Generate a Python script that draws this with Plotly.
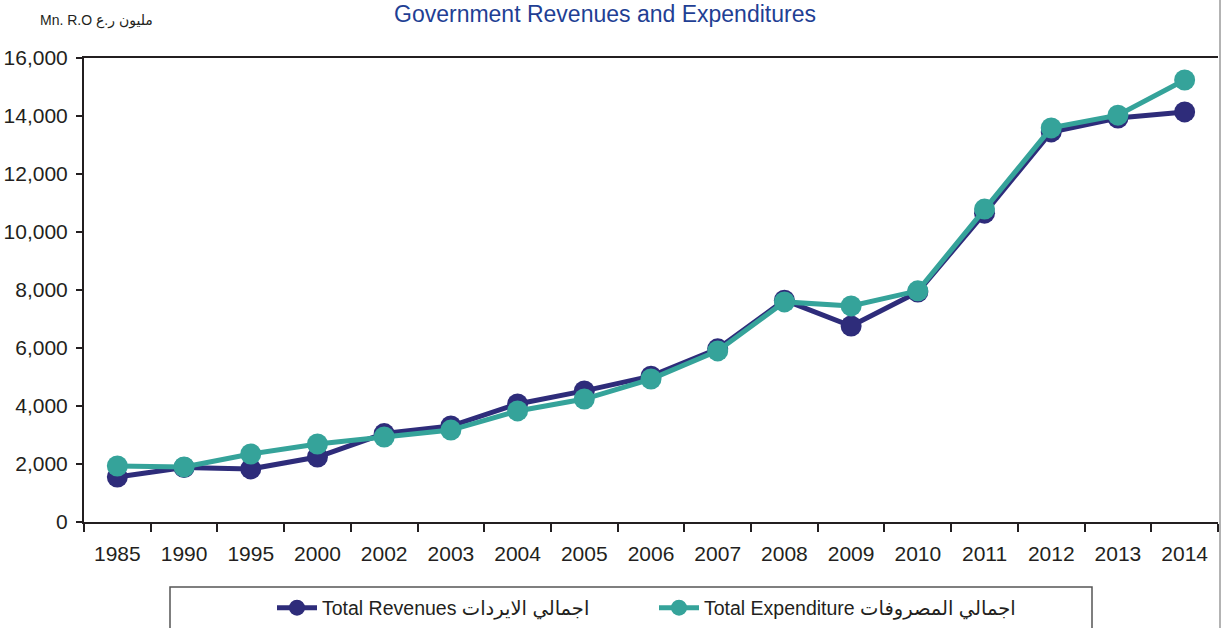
import plotly.graph_objects as go

years = ["1985", "1990", "1995", "2000", "2002", "2003", "2004", "2005", "2006",
         "2007", "2008", "2009", "2010", "2011", "2012", "2013", "2014"]
revenues = [1550, 1880, 1830, 2240, 3050, 3310, 4070, 4520, 5030,
            5970, 7650, 6760, 7930, 10650, 13450, 13930, 14140]
expenditure = [1930, 1900, 2345, 2690, 2930, 3170, 3830, 4240, 4930,
               5900, 7590, 7450, 7970, 10790, 13590, 14030, 15240]

names = ["Total Revenues اجمالي الايردات", "Total Expenditure اجمالي المصروفات"]
title_text = "Government Revenues and Expenditures"
unit_text = "Mn. R.O مليون ر.ع"

FONT = "Liberation Sans, Arial, DejaVu Sans"
NAVY = "#2e2c7a"
TEAL = "#35a39a"
INK = "#231f20"

fig = go.Figure()
fig.add_trace(go.Scatter(x=years, y=revenues, name=names[0], mode="lines+markers",
                         line=dict(color=NAVY, width=5),
                         marker=dict(color=NAVY, size=21)))
fig.add_trace(go.Scatter(x=years, y=expenditure, name=names[1], mode="lines+markers",
                         line=dict(color=TEAL, width=5),
                         marker=dict(color=TEAL, size=21)))

fig.update_layout(
    width=1224, height=628,
    margin=dict(l=84, r=6, t=58, b=106, autoexpand=False),
    paper_bgcolor="white", plot_bgcolor="white",
    font=dict(family=FONT, color=INK, size=20),
    showlegend=True,
    legend=dict(orientation="h", xref="container", yref="container",
                x=272 / 1224, xanchor="left", y=1 - 608 / 628, yanchor="middle",
                font=dict(size=19.5, color=INK), itemwidth=40, entrywidth=327,
                bgcolor="rgba(0,0,0,0)", borderwidth=0),
    xaxis=dict(type="category", range=[-0.5, 16.5], showline=True, linecolor=INK,
               linewidth=2, mirror=True, ticks="outside", tickson="boundaries",
               ticklen=8, tickwidth=1.5, tickcolor=INK, showgrid=False,
               ticklabelstandoff=12,
               tickfont=dict(size=21, color=INK), zeroline=False, automargin=False),
    yaxis=dict(range=[0, 16000], dtick=2000, tickformat=",", showline=True,
               linecolor=INK, linewidth=2, ticks="outside", ticklen=6, tickwidth=1.5,
               tickcolor=INK, showgrid=False, zeroline=False, automargin=False,
               ticklabelstandoff=4,
               tickfont=dict(size=21, color=INK)),
)

# legend frame and right border
fig.add_shape(type="rect", xref="paper", yref="paper",
              x0=(170 - 84) / 1134, x1=(1092 - 84) / 1134,
              y0=(522 - 640) / 464, y1=(522 - 587) / 464,
              line=dict(color="#555555", width=1.5), fillcolor="rgba(0,0,0,0)")
fig.add_shape(type="line", xref="paper", yref="paper",
              x0=(1220 - 84) / 1134, x1=(1220 - 84) / 1134,
              y0=-0.3, y1=1.2, line=dict(color="#9a9a9a", width=1.5))

fig.add_annotation(text=title_text, xref="paper", yref="paper",
                   x=(605 - 84) / 1134, y=(522 - 14) / 464, xanchor="center", yanchor="middle",
                   showarrow=False, font=dict(size=23, color="#1f3f94", family=FONT))
fig.add_annotation(text=unit_text, xref="paper", yref="paper",
                   x=(38 - 84) / 1134, y=(522 - 20) / 464, xanchor="left", yanchor="middle",
                   showarrow=False, font=dict(size=14, color=INK, family=FONT))

fig.write_html("out.html", config={"displayModeBar": False},
               post_script="document.body.style.margin='0px';")
